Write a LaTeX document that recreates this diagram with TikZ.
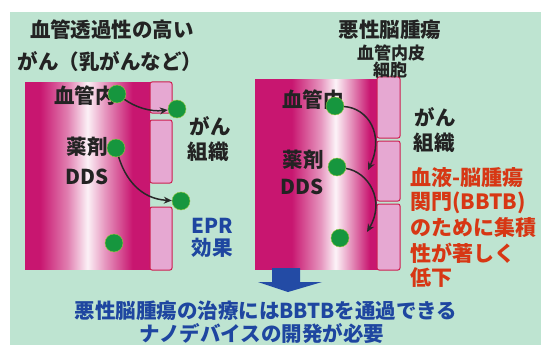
\documentclass[tikz,border=0pt]{standalone}
\usepackage{fontspec}
\setmainfont{Noto Sans CJK JP}
\usetikzlibrary{arrows.meta}
\definecolor{bggreen}{RGB}{190,228,209}
\definecolor{vmag}{RGB}{200,22,112}
\definecolor{cellfill}{RGB}{230,168,210}
\definecolor{cellline}{RGB}{205,30,80}
\definecolor{dotgreen}{RGB}{22,150,62}
\definecolor{dotrim}{RGB}{150,200,60}
\definecolor{txtdark}{RGB}{35,35,35}
\definecolor{txtblue}{RGB}{30,70,160}
\definecolor{txtred}{RGB}{215,55,20}
\definecolor{arrblue}{RGB}{35,75,165}
\definecolor{arrdark}{RGB}{40,40,40}
\pgfdeclarehorizontalshading{vesselA}{100bp}{color(0bp)=(vmag); color(25bp)=(vmag); color(31bp)=(vmag); color(42bp)=(vmag!55!white); color(50bp)=(vmag!6!white); color(57bp)=(vmag!45!white); color(68bp)=(vmag); color(100bp)=(vmag)}
\pgfdeclarehorizontalshading{vesselB}{100bp}{color(0bp)=(vmag); color(25bp)=(vmag); color(40bp)=(vmag); color(52bp)=(vmag!45!white); color(58bp)=(vmag!5!white); color(64bp)=(vmag!45!white); color(72bp)=(vmag); color(100bp)=(vmag)}
\begin{document}
\begin{tikzpicture}[x=1pt,y=-1pt,
  cell/.style={draw=cellline,fill=cellfill,line width=1pt,rounded corners=2pt},
  dot/.style={circle,fill=dotgreen,draw=dotrim,line width=0.4pt,minimum size=18pt,inner sep=0pt},
  arr/.style={draw=arrdark,line width=1.5pt,-{Stealth[length=8pt,width=7pt]}},
  lbl/.style={inner sep=0pt,text=txtdark,font=\bfseries\fontsize{20.5}{22}\selectfont},
  small/.style={inner sep=0pt,text=txtdark,font=\bfseries\fontsize{17}{18}\selectfont},
  bluelbl/.style={inner sep=0pt,text=txtblue,font=\bfseries\fontsize{20.5}{22}\selectfont},
  redlbl/.style={inner sep=0pt,text=txtred,anchor=west,font=\bfseries\fontsize{21}{23}\selectfont},
  bottom/.style={inner sep=0pt,text=txtblue,font=\bfseries\fontsize{20.5}{22}\selectfont}]
\useasboundingbox (0,0) rectangle (541,345);
\fill[white] (0,0) rectangle (541,345);
\fill[bggreen] (10,12) rectangle (541,345);
% vessels
\shade[shading=vesselA] (25,83) rectangle (150,269);
\shade[shading=vesselB] (255,80) rectangle (377,269);
% cells left
\draw[cell] (150,82) rectangle (172,113);
\draw[cell] (150,120) rectangle (172,183);
\draw[cell] (150,207) rectangle (172,270);
% cells right
\draw[cell] (377,77) rectangle (400,138);
\draw[cell] (377,141) rectangle (400,201);
\draw[cell] (377,204) rectangle (400,270);
% titles
\node[lbl] (tl1) at (112,30) {血管透過性の高い};
\node[lbl] (tl2) at (110,62) {がん（乳がんなど）};
\node[lbl] (tr1) at (390,30) {悪性脳腫瘍};
\node[small] (tr2) at (391,53) {血管内皮};
\node[small] (tr3) at (390,70) {細胞};
% left labels
\node[lbl] (l1) at (85,96) {血管内};
\node[lbl] (l2) at (87,147) {薬剤};
\node[lbl] (l3) at (87,177) {DDS};
\node[lbl] (l4) at (210,126) {がん};
\node[lbl] (l5) at (208,152) {組織};
\node[bluelbl] (l6) at (212,226) {EPR};
\node[bluelbl] (l7) at (212,248) {効果};
% right labels
\node[lbl] (r1) at (313,100) {血管内};
\node[lbl] (r2) at (303,160) {薬剤};
\node[lbl] (r3) at (302,187) {DDS};
\node[lbl] (r4) at (435,117) {がん};
\node[lbl] (r5) at (434,143) {組織};
\node[redlbl] (q1) at (410,178) {血液-脳腫瘍};
\node[redlbl] (q2) at (410,203) {関門(BBTB)};
\node[redlbl] (q3) at (410,228) {のために集積};
\node[redlbl] (q4) at (410,253) {性が著しく};
\node[redlbl] (q5) at (410,278) {低下};
% dots
\node[dot] (dL1) at (117,94) {};
\node[dot] (dL2) at (177,109) {};
\node[dot] (dL3) at (116,148) {};
\node[dot] (dL4) at (181,201) {};
\node[dot] (dL5) at (114,243) {};
\node[dot] (dR1) at (335,106) {};
\node[dot] (dR2) at (337,167) {};
\node[dot] (dR3) at (340,238) {};
\coordinate (tR1) at (368,170);
\coordinate (tR2) at (367,232);
% arrows
\draw[arr] (dL1) .. controls (135,107) and (150,112) .. (dL2);
\draw[arr] (dL3) .. controls (125,178) and (140,199) .. (dL4);
\draw[arr] (dR1) .. controls (368,108) and (385,135) .. (tR1);
\draw[arr] (dR2) .. controls (368,172) and (386,200) .. (tR2);
% big arrow
\fill[arrblue] (272,268) -- (300,268) -- (300,282) -- (322,282) -- (288,292) -- (258,282) -- (272,282) -- cycle;
% bottom text
\node[bottom] (b1) at (266,311) {悪性脳腫瘍の治療にはBBTBを通過できる};
\node[bottom] (b2) at (262,334) {ナノデバイスの開発が必要};
\end{tikzpicture}
\end{document}
